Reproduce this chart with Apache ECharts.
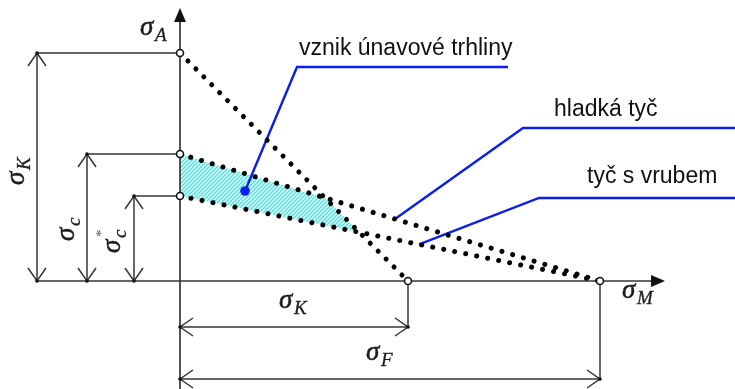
<!DOCTYPE html>
<html>
<head>
<meta charset="utf-8">
<script src="https://cdn.jsdelivr.net/npm/echarts@6/dist/echarts.min.js"></script>
<style>
  html, body { margin: 0; padding: 0; background: #fff; }
  #chart { width: 735px; height: 389px; }
</style>
</head>
<body>
<div id="chart"></div>
<script>
// Haighův diagram: amplituda napětí σA proti střednímu napětí σM

// Limitní přímky: průsečík s osou σA a s osou σM
const lineNames  = ['σK – σK', 'hladká tyč', 'tyč s vrubem'];
const lineStartA = [228, 127, 85];    // σK, σc, σc*
const lineEndM   = [228, 420, 420];   // σK, σF, σF

const sigmaK = lineStartA[0];
const sigmaC = lineStartA[1];
const sigmaCStar = lineStartA[2];
const sigmaF = lineEndM[1];

// Popisky odkazových čar
const leaderTexts = ['vznik únavové trhliny', 'hladká tyč', 'tyč s vrubem'];

// ---- layout (stress units of the plot window) ----
const view = { x: [-180, 555], y: [-108, 281] };
const axisEnd = { x: 485, y: 273, xFrom: -143, yFrom: -108 };
const dimCols = [-143, -93, -46];     // vertical dimension lines for σK, σc, σc*
const dimRows = [-46, -98];           // horizontal dimension lines for σK, σF

const INK = '#353535';
const MATH = '#1a1a22';
const BLUE = '#0a1ef0';
const SERIF = '"Liberation Serif", "DejaVu Serif", serif';
const SANS = '"Liberation Sans", Arial, sans-serif';

// σA on limit line i at mean stress m
function onLine(i, m) { return lineStartA[i] * (1 - m / lineEndM[i]); }
// intersection of limit lines i and j (mean stress)
function crossM(i, j) {
  const a = lineStartA[i], b = lineEndM[i], c = lineStartA[j], d = lineEndM[j];
  return (a - c) / (a / b - c / d);
}

// leader lines: anchor on a mark, elbow, end of shelf, text position
const leaders = [
  { anchor: [65, 90],  elbow: [117, 214], end: [328, 214], text: [119, 232], dot: true },
  { anchorM: 215, line: 1, elbow: [343, 153], end: [555, 153], text: [374, 171] },
  { anchorM: 239, line: 2, elbow: [359, 83],  end: [555, 83],  text: [407, 104] }
];

// math labels: [symbol, subscript, superscript, data position, vertical]
const mathLabels = [
  ['σ', 'A', '', [-40, 253], false],
  ['σ', 'M', '', [442, -10], false],
  ['σ', 'K', '', [99, -20], false],
  ['σ', 'F', '', [186, -72], false],
  ['σ', 'K', '', [-163, 96], true],
  ['σ', 'c', '', [-113, 40], true],
  ['σ', 'c', '*', [-67, 28], true]
];

// diagonal hatch tile for the crack-initiation region
function hatchTile() {
  const s = 4, c = document.createElement('canvas');
  c.width = s; c.height = s;
  const g = c.getContext('2d');
  g.strokeStyle = '#45e4e4';
  g.lineWidth = 1.5;
  g.beginPath();
  g.moveTo(-1, 1); g.lineTo(1, -1);
  g.moveTo(0, s); g.lineTo(s, 0);
  g.moveTo(s - 1, s + 1); g.lineTo(s + 1, s - 1);
  g.stroke();
  return c;
}
const hatchFill = { image: hatchTile(), repeat: 'repeat' };

function renderHatch(params, api) {
  const mTop = crossM(0, 1);
  const mBot = crossM(0, 2);
  const pts = [[0, sigmaC], [mTop, onLine(1, mTop)], [mBot, onLine(2, mBot)], [0, sigmaCStar]]
    .map(p => api.coord(p));
  return { type: 'polygon', shape: { points: pts }, style: { fill: hatchFill, stroke: null } };
}

function renderAnnotations(params, api) {
  const P = p => api.coord(p);
  const kids = [];
  const seg = (a, b, stroke, w) => {
    const A = P(a), B = P(b);
    kids.push({ type: 'line', shape: { x1: A[0], y1: A[1], x2: B[0], y2: B[1] },
      style: { stroke: stroke || INK, lineWidth: w || 1.5 } });
  };
  const head = (tipD, fromD, filled) => {
    const T = P(tipD), F = P(fromD);
    const dx = T[0] - F[0], dy = T[1] - F[1], L = Math.hypot(dx, dy);
    const ux = dx / L, uy = dy / L;
    const len = filled ? 14 : 13, half = filled ? 6 : 9;
    const a = [T[0] - ux * len - uy * half, T[1] - uy * len + ux * half];
    const b = [T[0] - ux * len + uy * half, T[1] - uy * len - ux * half];
    if (filled) {
      kids.push({ type: 'polygon', shape: { points: [a, T, b] }, style: { fill: '#111', stroke: null } });
    } else {
      kids.push({ type: 'polyline', shape: { points: [a, T, b] }, style: { stroke: INK, lineWidth: 1.5, fill: null } });
    }
  };
  const tick = (p) => {
    const A = P(p);
    kids.push({ type: 'circle', shape: { cx: A[0], cy: A[1], r: 1.8 }, style: { fill: '#111' } });
  };

  // axes with filled arrowheads
  seg([axisEnd.xFrom, 0], [axisEnd.x - 13, 0], INK, 1.7);
  head([axisEnd.x, 0], [0, 0], true);
  seg([0, axisEnd.yFrom], [0, axisEnd.y - 13], INK, 1.7);
  head([0, axisEnd.y], [0, 0], true);

  // vertical dimensions σK, σc, σc*
  [sigmaK, sigmaC, sigmaCStar].forEach((v, i) => {
    const x = dimCols[i];
    seg([x, 0], [x, v]);
    seg([x, v], [0, v]);
    head([x, v], [x, 0], false);
    head([x, 0], [x, v], false);
    tick([x, v]); tick([x, 0]);
  });

  // horizontal dimensions σK, σF
  [sigmaK, sigmaF].forEach((v, i) => {
    const y = dimRows[i];
    seg([0, y], [v, y]);
    seg([v, 0], [v, y]);
    head([v, y], [0, y], false);
    head([0, y], [v, y], false);
    tick([0, y]); tick([v, y]);
  });

  // leader lines
  leaders.forEach((ld, i) => {
    const anchor = ld.anchor || [ld.anchorM, onLine(ld.line, ld.anchorM)];
    const pts = [anchor, ld.elbow, ld.end].map(P);
    kids.push({ type: 'polyline', shape: { points: pts },
      style: { stroke: BLUE, lineWidth: 2.4, fill: null }, z2: 20 });
    if (ld.dot) {
      kids.push({ type: 'circle', shape: { cx: pts[0][0], cy: pts[0][1], r: 4.8 },
        style: { fill: BLUE }, z2: 21 });
    }
    const T = P(ld.text);
    kids.push({ type: 'text', x: T[0], y: T[1], z2: 22,
      style: { text: leaderTexts[i], fill: '#111', fontFamily: SANS, fontSize: 23,
        align: 'left', verticalAlign: 'middle' } });
  });

  // σ labels
  mathLabels.forEach(([sym, sub, sup, pos, vertical]) => {
    const Q = P(pos);
    const parts = [
      { type: 'text', x: 0, y: 0, style: { text: sym, fill: MATH, fontFamily: SERIF,
        fontStyle: 'italic', fontSize: 27, align: 'left', verticalAlign: 'middle',
        stroke: MATH, lineWidth: 0.5 } },
      { type: 'text', x: 15, y: 8, style: { text: sub, fill: MATH, fontFamily: SERIF,
        fontStyle: 'italic', fontSize: 19, align: 'left', verticalAlign: 'middle',
        stroke: MATH, lineWidth: 0.3 } }
    ];
    if (sup) {
      parts.push({ type: 'text', x: 16, y: -11, style: { text: sup, fill: '#555', fontFamily: SERIF,
        fontSize: 15, align: 'left', verticalAlign: 'middle' } });
    }
    kids.push({ type: 'group', x: Q[0], y: Q[1], rotation: vertical ? Math.PI / 2 : 0,
      children: parts, z2: 22 });
  });

  return { type: 'group', children: kids };
}

const chart = echarts.init(document.getElementById('chart'), null, { renderer: 'canvas' });

const dottedSeries = lineNames.map((name, i) => ({
  name: name,
  type: 'line',
  data: [[0, lineStartA[i]], [lineEndM[i], 0]],
  showSymbol: false,
  silent: true,
  animation: false,
  z: 3,
  lineStyle: { color: '#000', width: 5, type: [0.01, 11.2], cap: 'round' }
}));

chart.setOption({
  animation: false,
  grid: { left: 0, right: 0, top: 0, bottom: 0, containLabel: false },
  xAxis: { type: 'value', min: view.x[0], max: view.x[1], show: false },
  yAxis: { type: 'value', min: view.y[0], max: view.y[1], show: false },
  series: [
    { type: 'custom', renderItem: renderHatch, data: [[0, 0]], silent: true, z: 1 },
    { type: 'custom', renderItem: renderAnnotations, data: [[0, 0]], silent: true, z: 2, clip: false },
    ...dottedSeries,
    {
      type: 'scatter',
      data: [[0, sigmaK], [0, sigmaC], [0, sigmaCStar], [sigmaK, 0], [sigmaF, 0]],
      symbol: 'circle',
      symbolSize: 7,
      silent: true,
      z: 5,
      itemStyle: { color: '#fff', borderColor: '#111', borderWidth: 1.6, opacity: 1 }
    }
  ]
});
</script>
</body>
</html>
